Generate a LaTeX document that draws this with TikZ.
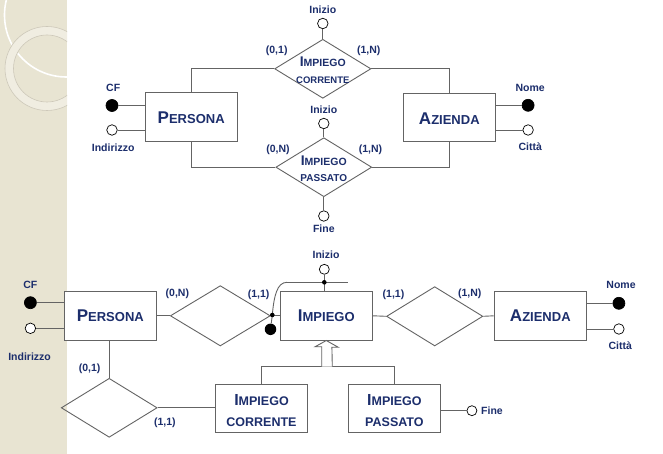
\documentclass[tikz,border=0pt]{standalone}
\usepackage{fontspec}
\setmainfont{Liberation Sans}
\usetikzlibrary{shapes.geometric}
\definecolor{navy}{RGB}{28,46,108}
\definecolor{lgray}{RGB}{100,100,100}
\definecolor{beige}{RGB}{232,228,210}
\definecolor{ringfill}{RGB}{240,237,225}
\definecolor{ringedge}{RGB}{205,200,185}
\newcommand\capsm[4]{{\fontsize{#1}{#1}\selectfont #3}{\fontsize{#2}{#2}\selectfont #4}}
\tikzset{
  ln/.style={draw=lgray, line width=0.9pt},
  ent/.style={rectangle, draw=lgray, line width=0.9pt, fill=white, minimum width=92.5pt, minimum height=48.5pt, inner sep=0pt, text=navy, font=\bfseries},
  rel/.style={diamond, draw=lgray, line width=0.9pt, inner sep=0pt},
  attr/.style={circle, draw=black, line width=0.7pt, fill=white, minimum size=10.5pt, inner sep=0pt},
  keyattr/.style={attr, fill=black, minimum size=12pt},
  lbl/.style={text=navy, font=\bfseries\fontsize{10.5}{12}\selectfont, inner sep=0pt},
  ttl/.style={text=navy, font=\bfseries, inner sep=0pt, anchor=base},
}
\begin{document}
\begin{tikzpicture}[x=1pt,y=-1pt]
\useasboundingbox (0,0) rectangle (663,454);
\fill[white] (0,0) rectangle (663,454);
\fill[beige] (0,0) rectangle (67,454);
\begin{scope}
  \clip (0,0) rectangle (67,454);
  \draw[white, line width=1.6pt] (66.5,15) circle[radius=62];
  \fill[ringfill, even odd rule] (47,68.5) circle[radius=42] (47,68.5) circle[radius=33.5];
  \draw[ringedge, line width=0.6pt] (47,68.5) circle[radius=42];
  \draw[ringedge, line width=0.6pt] (47,68.5) circle[radius=33.5];
\end{scope}

% ===== top diagram =====
\node[ent] (per1) at (191.2,117) {};
\node[ttl] (per1t) at (191.2,124) {\capsm{17}{13}{P}{ERSONA}};
\node[ent] (azi1) at (449.3,117.5) {};
\node[ttl] (azi1t) at (449.3,124.5) {\capsm{17}{13}{A}{ZIENDA}};

\node[rel, minimum width=96.3pt, minimum height=59pt] (r1) at (322.8,68.8) {};
\node[rel, minimum width=95.9pt, minimum height=59pt] (r2) at (323.8,167.2) {};

\draw[ln] (r1.west) -| (per1.north);
\draw[ln] (r1.east) -| (azi1.north);
\draw[ln] (r2.west) -| (per1.south);
\draw[ln] (r2.east) -| (azi1.south);

\node[ttl] (r1t1) at (322.8,66.7) {\capsm{14}{10.5}{I}{MPIEGO}};
\node[ttl] (r1t2) at (322.8,83.3) {\fontsize{9.5}{10}\selectfont CORRENTE};
\node[ttl] (r2t1) at (323.8,165.7) {\capsm{14}{10.5}{I}{MPIEGO}};
\node[ttl] (r2t2) at (323.8,181.7) {\fontsize{10}{10}\selectfont PASSATO};

\node[attr] (ini1) at (322.8,23.5) {};
\node[lbl] (ini1l) at (322.8,10) {Inizio};
\draw[ln] (ini1) -- (r1.north);
\node[attr] (ini2) at (323.8,123.5) {};
\node[lbl] (ini2l) at (323.8,109.3) {Inizio};
\draw[ln] (ini2) -- (r2.north);
\node[attr] (fin1) at (323.8,216) {};
\node[lbl] (fin1l) at (323.8,229) {Fine};
\draw[ln] (r2.south) -- (fin1);

\node[keyattr] (cf1) at (112,105.5) {};
\node[lbl] (cf1l) at (113.2,88.3) {CF};
\draw[ln] (cf1) -- (cf1 -| per1.west);
\node[attr] (ind1) at (112,130) {};
\node[lbl] (ind1l) at (113.2,147.7) {Indirizzo};
\draw[ln] (ind1) -- (ind1 -| per1.west);

\node[keyattr] (nom1) at (528.1,105.3) {};
\node[lbl] (nom1l) at (530.2,88.3) {Nome};
\draw[ln] (nom1) -- (nom1 -| azi1.east);
\node[attr] (cit1) at (528.1,130) {};
\node[lbl] (cit1l) at (530.2,147) {Città};
\draw[ln] (cit1) -- (cit1 -| azi1.east);

\node[lbl] (c1) at (276.7,50.7) {(0,1)};
\node[lbl] (c2) at (368.8,50.7) {(1,N)};
\node[lbl] (c3) at (278,149.3) {(0,N)};
\node[lbl] (c4) at (370.5,149.3) {(1,N)};

% ===== bottom diagram =====
\node[ent] (per2) at (110.3,315.8) {};
\node[ttl] (per2t) at (110.3,321.8) {\capsm{17}{13}{P}{ERSONA}};
\node[ent] (imp) at (326.3,315.8) {};
\node[ttl] (impt) at (326.3,321.8) {\capsm{17}{13}{I}{MPIEGO}};
\node[ent] (azi2) at (540.3,315.8) {};
\node[ttl] (azi2t) at (540.3,321.8) {\capsm{17}{13}{A}{ZIENDA}};

\node[rel, minimum width=100pt, minimum height=60.3pt] (d1) at (220.3,315.8) {};
\node[rel, minimum width=96.3pt, minimum height=59.3pt] (d2) at (434.7,316.3) {};
\node[rel, minimum width=95.9pt, minimum height=59pt] (d3) at (109.2,407.8) {};

\draw[ln] (per2.east) -- (d1.west);
\draw[ln] (d1.east) -- (imp.west);
\draw[ln] (imp.east) -- (d2.west);
\draw[ln] (d2.east) -- (azi2.west);

\node[ent] (ic) at (261.5,408.3) {};
\node[ttl] (ict1) at (261.5,405.7) {\capsm{16}{12.5}{I}{MPIEGO}};
\node[ttl] (ict2) at (261.5,426) {\fontsize{12.5}{13}\selectfont CORRENTE};
\node[ent] (ip) at (394.4,408.3) {};
\node[ttl] (ipt1) at (394.4,405.7) {\capsm{16}{12.5}{I}{MPIEGO}};
\node[ttl] (ipt2) at (394.4,426) {\fontsize{12.5}{13}\selectfont PASSATO};

\draw[ln] (d3.north) -- (d3.north |- per2.south);
\draw[ln] (d3.east) -- (d3.east -| ic.west);

% generalization
\coordinate (gen) at (327,366.5);
\draw[ln] (ic.north) |- (gen) -| (ip.north);
\draw[ln, fill=white] ([xshift=-5.3pt]gen) -- ++(0,-19.8) -- ++(-6.5,0) -- (imp.south) -- ++(11.8,6.7) -- ++(-6.2,0) -- ([xshift=5.3pt]gen);

% identifier of IMPIEGO
\coordinate (ldot) at (272.3,315);
\coordinate (idot) at (324.3,282.3);
\coordinate (hl) at (287,282.3);
\coordinate (hr) at (348.3,282.3);
\node[attr, minimum size=10pt] (ini3) at (324.3,269.3) {};
\node[lbl] (ini3l) at (326,255) {Inizio};
\draw[ln] (ini3) -- (idot) -- (idot |- imp.north);
\draw[ln] (hl) -- (hr);
\draw[ln] (ldot) .. controls (274,296) and (277,282.3) .. (hl);
\node[circle, fill=black, minimum size=11.5pt, inner sep=0pt] (bigdot) at (270.5,329.3) {};
\draw[ln] (ldot) -- (bigdot);
\fill (ldot) circle[radius=2.3];
\fill (idot) circle[radius=2.3];

\node[keyattr] (cf2) at (30.4,302.7) {};
\node[lbl] (cf2l) at (30.4,285) {CF};
\draw[ln] (cf2) -- (cf2 -| per2.west);
\node[attr] (ind2) at (30.4,328.3) {};
\node[lbl] (ind2l) at (29.6,356.7) {Indirizzo};
\draw[ln] (ind2) -- (ind2 -| per2.west);

\node[keyattr] (nom2) at (618.9,303.3) {};
\node[lbl] (nom2l) at (621,285) {Nome};
\draw[ln] (nom2) -- (nom2 -| azi2.east);
\node[attr] (cit2) at (618.9,329) {};
\node[lbl] (cit2l) at (620.2,346) {Città};
\draw[ln] (cit2) -- (cit2 -| azi2.east);

\node[attr, minimum size=10pt] (fin2) at (471.9,410.7) {};
\node[lbl, anchor=west] (fin2l) at (481,410.7) {Fine};
\draw[ln] (fin2 -| ip.east) -- (fin2);

\node[lbl] (b1) at (177.4,294) {(0,N)};
\node[lbl] (b2) at (258.6,294.5) {(1,1)};
\node[lbl] (b3) at (393.5,294.5) {(1,1)};
\node[lbl] (b4) at (469.8,294) {(1,N)};
\node[lbl] (b5) at (89.6,368.3) {(0,1)};
\node[lbl] (b6) at (164.8,422.7) {(1,1)};
\end{tikzpicture}
\end{document}
